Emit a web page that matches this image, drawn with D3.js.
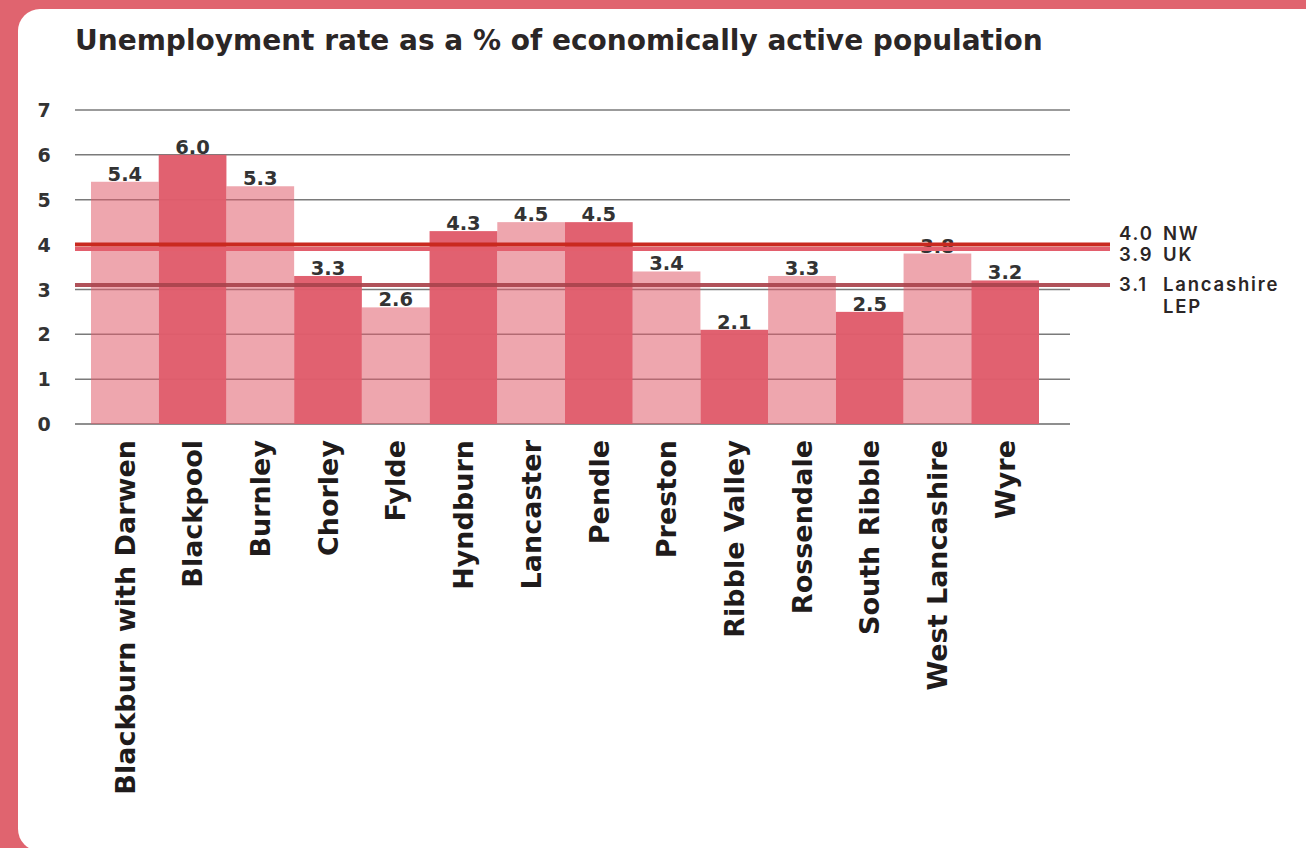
<!DOCTYPE html>
<html>
<head>
<meta charset="utf-8">
<script src="https://cdn.jsdelivr.net/npm/d3@7"></script>
<style>
  html, body { margin: 0; padding: 0; background: #e0646f; }
  svg { display: block; }
</style>
</head>
<body>
<svg id="chart" width="1306" height="848"></svg>
<script>
// Unemployment rate by local authority, %
const districts = ["Blackburn with Darwen", "Blackpool", "Burnley", "Chorley", "Fylde", "Hyndburn",
  "Lancaster", "Pendle", "Preston", "Ribble Valley", "Rossendale", "South Ribble", "West Lancashire", "Wyre"];
const rates = [5.4, 6.0, 5.3, 3.3, 2.6, 4.3, 4.5, 4.5, 3.4, 2.1, 3.3, 2.5, 3.8, 3.2];
// shade group for each bar: 0 = light, 1 = dark
const shade = [0, 1, 0, 1, 0, 1, 0, 1, 0, 1, 0, 1, 0, 1];

// comparison benchmarks
const refNames = ["NW", "UK", "Lancashire LEP"];
const refValues = [4.0, 3.9, 3.1];

const yTicks = [0, 1, 2, 3, 4, 5, 6, 7];

const svg = d3.select("#chart");
const labelFont = "'DejaVu Sans', sans-serif";
const headFont = "Inter, 'Open Sans', sans-serif";

// white card
svg.append("rect")
  .attr("x", 18).attr("y", 9)
  .attr("width", 1310).attr("height", 842)
  .attr("rx", 22).attr("ry", 22)
  .attr("fill", "#ffffff");

svg.append("text")
  .attr("x", 75).attr("y", 50)
  .attr("font-family", labelFont)
  .attr("font-weight", 700)
  .attr("font-size", 28)
  .attr("fill", "#2b2626")
  .text("Unemployment rate as a % of economically active population");

const x = d3.scaleBand().domain(districts).range([91, 1039]).padding(0);
const y = d3.scaleLinear().domain([0, 7]).range([424, 110]);

// gridlines
const grid = svg.append("g");
grid.selectAll("line").data(yTicks).join("line")
  .attr("x1", 75).attr("x2", 1070)
  .attr("y1", d => y(d)).attr("y2", d => y(d))
  .attr("stroke", d => d === 0 ? "#6a6a6a" : "#7a7a7a")
  .attr("stroke-width", 1.5);

// y axis labels
const yAxis = d3.axisLeft(y).tickValues(yTicks).tickSize(0).tickPadding(0).tickFormat(d3.format("d"));
const ya = svg.append("g").attr("transform", "translate(50,0)").call(yAxis);
ya.select(".domain").remove();
ya.selectAll("text")
  .attr("font-family", labelFont)
  .attr("font-weight", 700)
  .attr("font-size", 19)
  .attr("fill", "#333")
  .attr("text-anchor", "middle")
  .attr("dx", -6)
  .attr("dy", "0.35em");

const dark = "#e05c6b";

// bars
svg.append("g").selectAll("rect").data(districts).join("rect")
  .attr("x", d => x(d))
  .attr("width", x.bandwidth())
  .attr("y", (d, i) => y(rates[i]))
  .attr("height", (d, i) => y(0) - y(rates[i]))
  .attr("fill", dark)
  .attr("fill-opacity", (d, i) => shade[i] ? 0.97 : 0.55);

// value labels
svg.append("g").selectAll("text").data(districts).join("text")
  .attr("x", d => x(d) + x.bandwidth() / 2)
  .attr("y", (d, i) => y(rates[i]) - 1)
  .attr("text-anchor", "middle")
  .attr("font-family", labelFont)
  .attr("font-weight", 700)
  .attr("font-size", 19.5)
  .attr("fill", "#333")
  .text((d, i) => d3.format(".1f")(rates[i]));

// benchmark lines
const refColors = ["#c9291f", "#e35f6d", "#a9434c"];
svg.append("g").selectAll("line").data(refValues).join("line")
  .attr("x1", 75).attr("x2", 1110)
  .attr("y1", d => y(d)).attr("y2", d => y(d))
  .attr("stroke", (d, i) => refColors[i])
  .attr("stroke-opacity", (d, i) => i === 2 ? 0.92 : 1)
  .attr("stroke-width", 4);

// benchmark labels
const refLabelY = [234, 255, 285];
const rl = svg.append("g")
  .attr("font-family", headFont)
  .attr("font-weight", 600)
  .attr("font-size", 18.5)
  .attr("letter-spacing", 1.8)
  .attr("fill", "#2b2626");
refValues.forEach((v, i) => {
  rl.append("text").attr("x", 1119).attr("y", refLabelY[i]).attr("dy", "0.35em")
    .text(d3.format(".1f")(v));
  const t = rl.append("text").attr("x", 1163).attr("y", refLabelY[i]).attr("dy", "0.35em");
  if (i === 2) {
    t.append("tspan").attr("x", 1163).text("Lancashire");
    t.append("tspan").attr("x", 1163).attr("dy", "1.15em").text("LEP");
  } else {
    t.text(refNames[i]);
  }
});

// category labels, rotated
svg.append("g").selectAll("text").data(districts).join("text")
  .attr("transform", d => `translate(${x(d) + x.bandwidth() / 2},440) rotate(-90)`)
  .attr("text-anchor", "end")
  .attr("dy", "0.36em")
  .attr("font-family", labelFont)
  .attr("font-weight", 700)
  .attr("font-size", 27)
  .attr("fill", "#1f1b1b")
  .text(d => d);
</script>
</body>
</html>
